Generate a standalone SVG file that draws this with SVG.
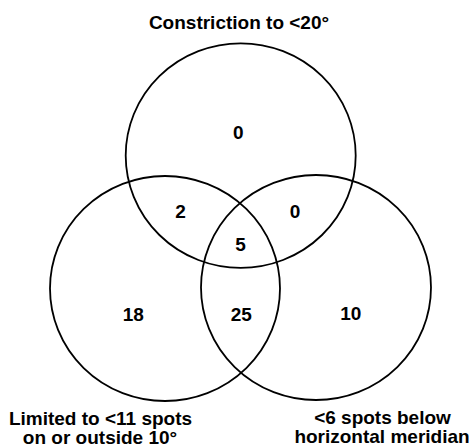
<svg xmlns="http://www.w3.org/2000/svg" width="469" height="448" viewBox="0 0 469 448">
<style>
  .set { fill: none; stroke: #000; stroke-width: 1.8; }
  text { font-family: "Liberation Sans", Arial, sans-serif; font-weight: bold; font-size: 19px; fill: #000; text-anchor: middle; }
</style>
<rect width="469" height="448" fill="#fff"/>
<g id="set-top">
  <ellipse class="set" cx="240.7" cy="155.6" rx="115" ry="112.3"/>
  <text x="239" y="29">Constriction to &lt;20°</text>
</g>
<g id="set-left">
  <ellipse class="set" cx="165" cy="288.5" rx="115" ry="112.5"/>
  <text x="100.5" y="424.5">Limited to &lt;11 spots</text>
  <text x="100" y="443.5">on or outside 10°</text>
</g>
<g id="set-right">
  <ellipse class="set" cx="316" cy="287.5" rx="115" ry="112.5"/>
  <text x="382.5" y="424">&lt;6 spots below</text>
  <text x="382" y="443">horizontal meridian</text>
</g>
<g id="counts">
  <text x="238.3" y="138.5">0</text>
  <text x="180.5" y="218">2</text>
  <text x="295" y="218">0</text>
  <text x="240.5" y="251">5</text>
  <text x="133.3" y="320.5">18</text>
  <text x="241.3" y="320.5">25</text>
  <text x="350.7" y="320">10</text>
</g>
<g id="connectors"></g>
</svg>
